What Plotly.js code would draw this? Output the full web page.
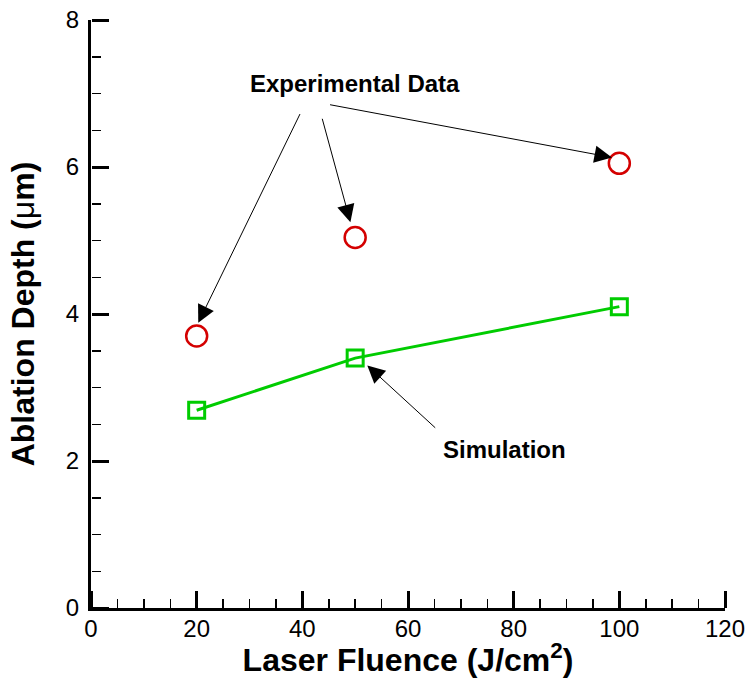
<!DOCTYPE html>
<html><head><meta charset="utf-8">
<script src="https://cdn.plot.ly/plotly-3.0.1.min.js"></script>
<style>body{margin:0;background:#fff}#c{width:752px;height:678px}</style>
</head><body><div id="c"></div>
<script>
const fluence = [20, 50, 100];
const expDepth = [3.7, 5.04, 6.05];
const simDepth = [2.69, 3.4, 4.1];
const xRange = [0, 120];
const yRange = [0, 8];

const FONT = 'Arial, "Liberation Sans", sans-serif';
const traces = [
  {x: fluence, y: simDepth, type: 'scatter', mode: 'lines+markers', name: 'Simulation',
   line: {color: '#00cc00', width: 3},
   marker: {symbol: 'square-open', size: 16, color: '#00cc00', line: {width: 3, color: '#00cc00'}}},
  {x: fluence, y: expDepth, type: 'scatter', mode: 'markers', name: 'Experimental Data',
   marker: {symbol: 'circle-open', size: 21, color: '#d40000', line: {width: 2.5, color: '#d40000'}}},
  {x: fluence, y: simDepth, type: 'scatter', mode: 'markers', xaxis: 'x2', yaxis: 'y2',
   marker: {opacity: 0}, hoverinfo: 'skip', showlegend: false}
];

function arrow(x, y, ax, ay) {
  return {x: x, y: y, ax: ax, ay: ay, xref: 'x', yref: 'y', axref: 'x', ayref: 'y',
    text: ' ', showarrow: true, arrowhead: 2, arrowsize: 3.5, arrowwidth: 1, arrowcolor: '#000', standoff: 0, startstandoff: 0};
}

const tickAxis = {
  ticks: 'outside', ticklen: 17, tickwidth: 3, tickcolor: '#000', showticklabels: false,
  showline: false, showgrid: false, zeroline: false, anchor: 'free', position: 0
};

const layout = {
  width: 752, height: 678,
  margin: {l: 91, r: 27, t: 20, b: 70},
  paper_bgcolor: '#fff', plot_bgcolor: '#fff',
  showlegend: false,
  font: {family: FONT, color: '#000', size: 24},
  xaxis: {range: xRange, tickmode: 'linear', tick0: 0, dtick: 20, ticks: '',
    showline: true, linewidth: 3, linecolor: '#000', showgrid: false, zeroline: false, mirror: false,
    tickfont: {size: 24, family: FONT}, ticklabelstandoff: -3,
    title: {text: '<b>Laser Fluence (J/cm<sup>2</sup>)</b>', font: {size: 32, family: FONT}, standoff: 6}},
  yaxis: {range: yRange, tickmode: 'linear', tick0: 0, dtick: 2, ticks: '',
    showline: true, linewidth: 3, linecolor: '#000', showgrid: false, zeroline: false, mirror: false,
    tickfont: {size: 24, family: FONT}, ticklabelstandoff: 4,
    title: {text: '<b>Ablation Depth (</b>μ<b>m)</b>', font: {size: 32, family: FONT}, standoff: 22}},
  xaxis2: Object.assign({}, tickAxis, {range: xRange, overlaying: 'x', side: 'top', tickmode: 'linear', tick0: 0, dtick: 20,
    minor: {dtick: 5, ticks: 'outside', ticklen: 9, tickwidth: 1.5, tickcolor: '#000', showgrid: false}}),
  yaxis2: Object.assign({}, tickAxis, {range: yRange, overlaying: 'y', side: 'right', tickmode: 'linear', tick0: 0, dtick: 2,
    minor: {dtick: 0.5, ticks: 'outside', ticklen: 9, tickwidth: 1.5, tickcolor: '#000', showgrid: false}}),
  annotations: [
    {x: 50.0, y: 7.13, xref: 'x', yref: 'y', text: '<b>Experimental Data</b>', showarrow: false, font: {size: 24, family: FONT}},
    {x: 78.2, y: 2.16, xref: 'x', yref: 'y', text: '<b>Simulation</b>', showarrow: false, font: {size: 24, family: FONT}},
    arrow(20.3, 3.88, 40.5, 6.86),
    arrow(49.1, 5.25, 43.0, 6.86),
    arrow(98.6, 6.13, 44.3, 6.86),
    arrow(52.3, 3.30, 66.1, 2.39)
  ]
};
Plotly.newPlot('c', traces, layout, {displayModeBar: false, staticPlot: true});
</script></body></html>
